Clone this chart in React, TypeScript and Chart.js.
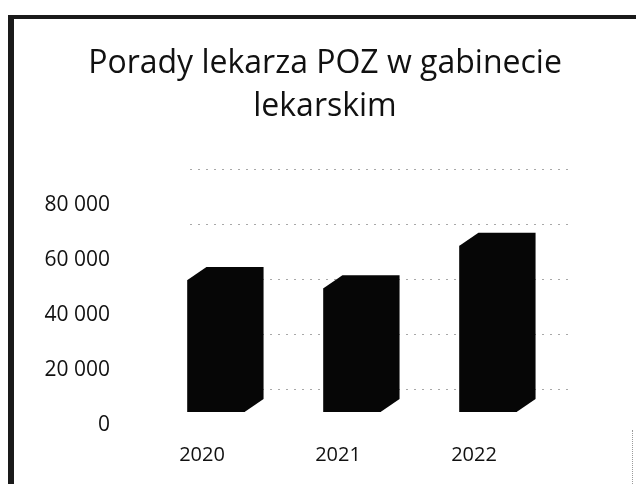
import React, { useEffect, useRef } from 'react';
import { Chart, registerables } from 'chart.js';

Chart.register(...registerables);

const categories = ['2020', '2021', '2022'];
const visits = [48000, 45000, 60500];
const titleLines = ['Porady lekarza POZ w gabinecie', 'lekarskim'];
const yMin = 0;
const yMax = 80000;
const yStep = 20000;

const fmt = (v: number) => String(v).replace(/\B(?=(\d{3})+(?!\d))/g, ' ');

const DEPTH_X = 19;
const DEPTH_Y = -13;

const wallGrid = {
  id: 'wallGrid',
  beforeDatasetsDraw(chart: any) {
    const { ctx } = chart;
    const ys = chart.scales.y;
    const xs = chart.scales.x;
    ctx.save();
    ctx.strokeStyle = '#a8a8a8';
    ctx.lineWidth = 1;
    ctx.setLineDash([2, 6]);
    ys.ticks.forEach((t: any) => {
      const py = Math.round(ys.getPixelForValue(t.value) - 23) + 0.5;
      ctx.beginPath();
      ctx.moveTo(xs.left + 42, py);
      ctx.lineTo(xs.right + 14, py);
      ctx.stroke();
    });
    ctx.restore();
  },
};

const depthPlugin = {
  id: 'depth3d',
  afterDatasetsDraw(chart: any) {
    const { ctx } = chart;
    const meta = chart.getDatasetMeta(0);
    ctx.save();
    ctx.fillStyle = '#060606';
    meta.data.forEach((bar: any) => {
      const { x, y, base, width } = bar.getProps(['x', 'y', 'base', 'width'], true);
      const l = x - width / 2;
      const r = x + width / 2;
      ctx.beginPath();
      ctx.moveTo(l, base);
      ctx.lineTo(l, y);
      ctx.lineTo(l + DEPTH_X, y + DEPTH_Y);
      ctx.lineTo(r + DEPTH_X, y + DEPTH_Y);
      ctx.lineTo(r + DEPTH_X, base + DEPTH_Y);
      ctx.lineTo(r, base);
      ctx.closePath();
      ctx.fill();
    });
    ctx.restore();
  },
};

export default function App() {
  const ref = useRef<HTMLCanvasElement | null>(null);

  useEffect(() => {
    document.body.style.margin = '0';
    if (!ref.current) return;
    const chart = new Chart(ref.current, {
      type: 'bar',
      data: {
        labels: categories,
        datasets: [
          {
            data: visits,
            backgroundColor: '#060606',
            borderWidth: 0,
            categoryPercentage: 1,
            barPercentage: 0.42,
            yAxisID: 'y',
          },
        ],
      },
      options: {
        responsive: false,
        maintainAspectRatio: false,
        animation: false,
        layout: { padding: { left: 0, right: 0, top: 0, bottom: 16 } },
        plugins: {
          legend: { display: false },
          tooltip: { enabled: false },
          title: {
            display: true,
            text: titleLines,
            color: '#111',
            font: { family: 'Open Sans', size: 32, weight: 'normal', lineHeight: 1.344 },
            padding: { top: 42, bottom: 64 },
          },
        },
        scales: {
          x: {
            grid: { display: false, drawTicks: false },
            border: { display: false },
            afterFit: (s: any) => {
              s.height = 56;
            },
            ticks: {
              color: '#111',
              font: { family: 'Open Sans', size: 20 },
              padding: 31,
              labelOffset: -14,
            },
          },
          y: {
            min: yMin,
            max: yMax,
            grid: { display: false, drawTicks: false },
            border: { display: false },
            afterFit: (s: any) => {
              s.width = 148;
            },
            ticks: {
              stepSize: yStep,
              color: '#111',
              font: { family: 'Open Sans', size: 21 },
              padding: 38,
              labelOffset: 13,
              callback: (v: any) => fmt(Number(v)),
            },
          },
          yRight: {
            type: 'linear',
            position: 'right',
            min: yMin,
            max: yMax,
            grid: { display: false, drawTicks: false },
            border: { display: false },
            ticks: { display: false },
            afterFit: (s: any) => {
              s.width = 94;
            },
          },
        },
      },
      plugins: [wallGrid, depthPlugin],
    });
    return () => chart.destroy();
  }, []);

  return (
    <div style={{ position: 'fixed', left: 0, top: 0, width: 636, height: 484, background: '#fff', overflow: 'hidden' }}>
      <canvas ref={ref} width={650} height={484} style={{ position: 'absolute', left: 0, top: 0 }} />
      <div
        style={{
          position: 'absolute',
          left: 8,
          top: 15,
          width: 640,
          height: 480,
          borderLeft: '6px solid #1a1a1a',
          borderTop: '4px solid #1a1a1a',
          pointerEvents: 'none',
        }}
      />
      <div
        style={{
          position: 'absolute',
          left: 632,
          top: 430,
          width: 0,
          height: 54,
          borderLeft: '1px dotted #9a9a9a',
          pointerEvents: 'none',
        }}
      />
    </div>
  );
}
